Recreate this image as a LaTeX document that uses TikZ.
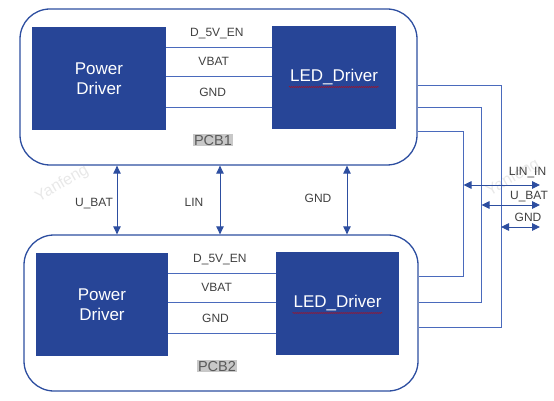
\documentclass[tikz,border=0pt]{standalone}
\usepackage{fontspec}
\setmainfont{Liberation Sans}
\usetikzlibrary{arrows.meta,decorations.pathmorphing}
\definecolor{pcbblue}{RGB}{45,78,160}
\definecolor{blockblue}{RGB}{39,69,151}
\definecolor{wireblue}{RGB}{74,106,188}
\definecolor{labelgray}{RGB}{64,64,64}
\definecolor{tagfill}{RGB}{200,200,200}
\begin{document}
\begin{tikzpicture}[x=1pt,y=-1pt,
    board/.style={draw=pcbblue,line width=1.3pt,rounded corners=30pt,
      minimum width=#1,minimum height=156pt,inner sep=0pt},
    block/.style={fill=blockblue,text=white,align=center,inner sep=0pt,
      font=\fontsize{17}{20}\selectfont,minimum width=#1,minimum height=103pt},
    wire/.style={draw=wireblue,line width=.8pt},
    both/.style={draw=pcbblue,line width=.9pt,
      {Triangle[length=8pt,width=7.5pt]}-{Triangle[length=8pt,width=7.5pt]}},
    lbl/.style={text=labelgray,font=\fontsize{12}{12}\selectfont,
      inner sep=0pt,text height=8.6pt,text depth=0pt},
    pcbtag/.style={fill=tagfill,text=black!65,font=\fontsize{14.5}{14.5}\selectfont,
      inner sep=1pt,text height=10.4pt,text depth=0pt},
    wmark/.style={text=black!9,rotate=30,font=\fontsize{16}{16}\selectfont},
    spell/.style={draw=red!80!black,line width=.4pt,decorate,
      decoration={snake,amplitude=.5pt,segment length=2pt}}]
  \useasboundingbox (0,0) rectangle (554,401);

  % watermark
  \node[wmark] (wm1) at (62,184) {Yanfeng};
  \node[wmark] (wm2) at (513,178) {Yanfeng};

  % PCB1
  \node[board=397pt] (pcb1) at (218.5,87) {};
  \node[block=134pt] (pd1) at (99,78.5) {Power\\Driver};
  \node[block=124pt] (led1) at (334,77.5) {LED\_Driver};
  \draw[spell] ([xshift=-45pt,yshift=-9.5pt]led1.center) -- ([xshift=45pt,yshift=-9.5pt]led1.center);
  \draw[wire] (pd1.east |- 0,47) -- node[lbl,above=9.7pt,pos=.48] (en1) {D\_5V\_EN} (led1.west |- 0,47);
  \draw[wire] (pd1.east |- 0,76) -- node[lbl,above=9.7pt,pos=.45] (vb1) {VBAT} (led1.west |- 0,76);
  \draw[wire] (pd1.east |- 0,107) -- node[lbl,above=9.7pt,pos=.44] (gn1) {GND} (led1.west |- 0,107);
  \node[pcbtag] (tag1) at (213,140) {PCB1};

  % PCB2
  \node[board=394pt] (pcb2) at (221,313) {};
  \node[block=132pt] (pd2) at (102,304.5) {Power\\Driver};
  \node[block=123pt] (led2) at (337.5,303.5) {LED\_Driver};
  \draw[spell] ([xshift=-45pt,yshift=-9.5pt]led2.center) -- ([xshift=45pt,yshift=-9.5pt]led2.center);
  \draw[wire] (pd2.east |- 0,273) -- node[lbl,above=9.7pt,pos=.48] (en2) {D\_5V\_EN} (led2.west |- 0,273);
  \draw[wire] (pd2.east |- 0,302) -- node[lbl,above=9.7pt,pos=.45] (vb2) {VBAT} (led2.west |- 0,302);
  \draw[wire] (pd2.east |- 0,333) -- node[lbl,above=9.7pt,pos=.44] (gn2) {GND} (led2.west |- 0,333);
  \node[pcbtag] (tag2) at (217,366) {PCB2};

  % links between the boards
  \draw[both] (pcb1.south -| 117,0) -- (pcb2.north -| 117,0);
  \draw[both] (pcb1.south -| 220,0) -- (pcb2.north -| 220,0);
  \draw[both] (pcb1.south -| 347,0) -- (pcb2.north -| 347,0);
  \node[lbl] (ubat) at (94,202) {U\_BAT};
  \node[lbl] (lin) at (194,202) {LIN};
  \node[lbl] (gnd) at (318,198) {GND};

  % outside bus
  \coordinate (busA) at (463.5,0);
  \coordinate (busB) at (481.5,0);
  \coordinate (busC) at (501,0);
  \draw[wire] (pcb1.east |- 0,131) -- (busA |- 0,131) -- (busA |- 0,276) -- (pcb2.east |- 0,276);
  \draw[wire] (pcb1.east |- 0,107) -- (busB |- 0,107) -- (busB |- 0,302) -- (pcb2.east |- 0,302);
  \draw[wire] (pcb1.east |- 0,85) -- (busC |- 0,85) -- (busC |- 0,327) -- (pcb2.east |- 0,327);
  \coordinate (linin) at (540,185);
  \coordinate (ubatin) at (540,205);
  \coordinate (gndin) at (540,227);
  \draw[both] (busA |- linin) -- (linin);
  \draw[both] (busB |- ubatin) -- (ubatin);
  \draw[both] (busC |- gndin) -- (gndin);
  \node[lbl] (lininlbl) at (527.5,171) {LIN\_IN};
  \node[lbl] (ubatlbl) at (529,195) {U\_BAT};
  \node[lbl] (gndlbl) at (528,217) {GND};
\end{tikzpicture}
\end{document}
